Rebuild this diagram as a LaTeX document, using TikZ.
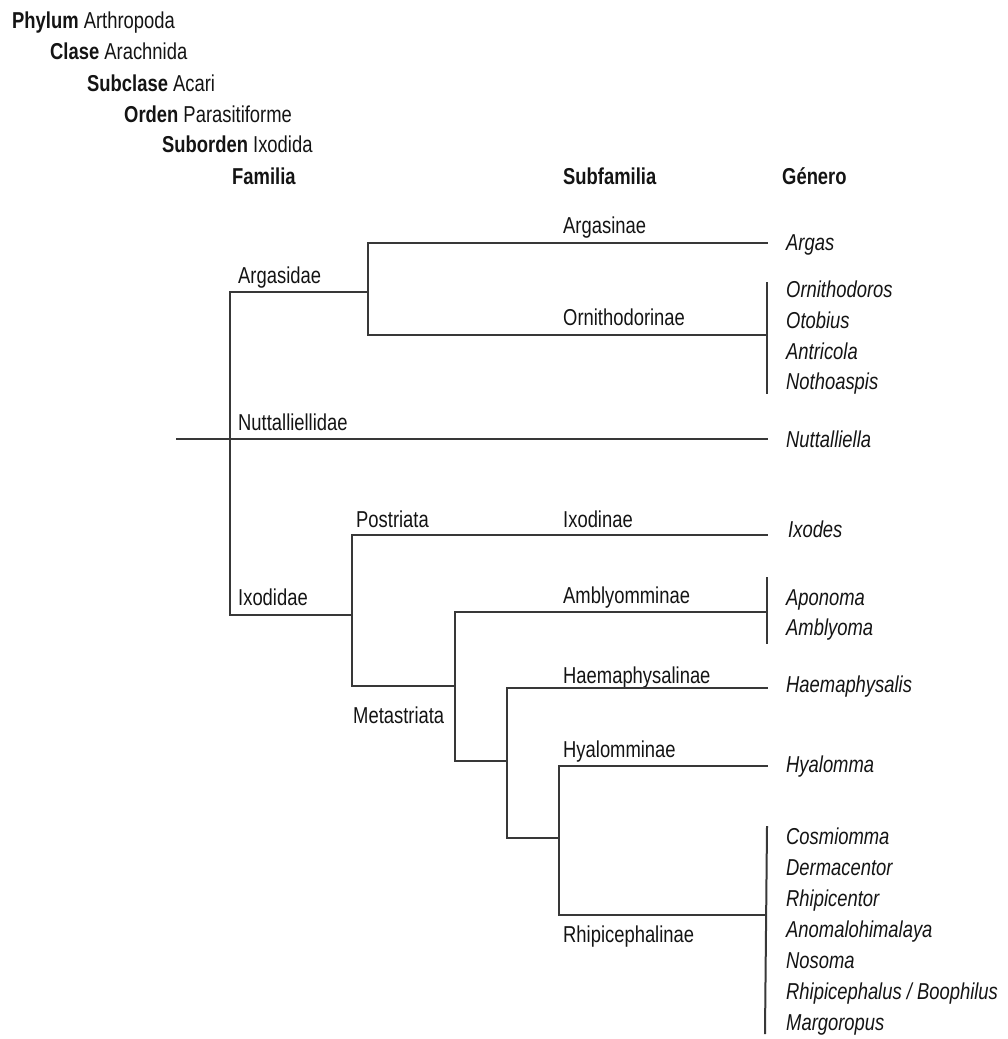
\documentclass[tikz,border=0pt]{standalone}
\usepackage{fontspec}
\setmainfont{Liberation Sans}[FakeStretch=0.80]
\begin{document}
\begin{tikzpicture}[x=1pt,y=-1pt,
  lbl/.style={anchor=base west, inner sep=0pt, text=black!92, font=\fontsize{23}{27}\selectfont},
  gen/.style={lbl, font=\fontsize{23}{27}\selectfont\itshape},
  hdr/.style={lbl, font=\fontsize{23}{27}\selectfont\bfseries},
  br/.style={line width=2pt, draw=black!78, line cap=rect}]
\useasboundingbox (0,0) rectangle (1008,1039);
% header ranks
\node[lbl] (phylum) at (12,28) {\textbf{Phylum} Arthropoda};
\node[lbl] (clase) at (50,59) {\textbf{Clase} Arachnida};
\node[lbl] (subclase) at (87,91) {\textbf{Subclase} Acari};
\node[lbl] (orden) at (124,122) {\textbf{Orden} Parasitiforme};
\node[lbl] (suborden) at (162,152) {\textbf{Suborden} Ixodida};
\node[hdr] (familia) at (232,184) {Familia};
\node[hdr] (subfamilia) at (563,184) {Subfamilia};
\node[hdr] (genero) at (782,184) {Género};
% family / subfamily labels
\node[lbl] (argasidae) at (238,283) {Argasidae};
\node[lbl] (nuttalliellidae) at (238,430) {Nuttalliellidae};
\node[lbl] (ixodidae) at (238,605) {Ixodidae};
\node[lbl] (postriata) at (356,527) {Postriata};
\node[lbl] (metastriata) at (353,723) {Metastriata};
\node[lbl] (argasinae) at (563,233) {Argasinae};
\node[lbl] (ornithodorinae) at (563,325) {Ornithodorinae};
\node[lbl] (ixodinae) at (563,527) {Ixodinae};
\node[lbl] (amblyomminae) at (563,603) {Amblyomminae};
\node[lbl] (haemaphysalinae) at (563,683) {Haemaphysalinae};
\node[lbl] (hyalomminae) at (563,757) {Hyalomminae};
\node[lbl] (rhipicephalinae) at (563,942) {Rhipicephalinae};
% genera
\node[gen] (argas) at (786,250) {Argas};
\node[gen] (ornithodoros) at (786,297) {Ornithodoros};
\node[gen] (otobius) at (786,328) {Otobius};
\node[gen] (antricola) at (786,359) {Antricola};
\node[gen] (nothoaspis) at (786,389) {Nothoaspis};
\node[gen] (nuttalliella) at (786,447) {Nuttalliella};
\node[gen] (ixodes) at (788,537) {Ixodes};
\node[gen] (aponoma) at (786,605) {Aponoma};
\node[gen] (amblyoma) at (786,635) {Amblyoma};
\node[gen] (haemaphysalis) at (786,692) {Haemaphysalis};
\node[gen] (hyalomma) at (786,772) {Hyalomma};
\node[gen] (cosmiomma) at (786,844) {Cosmiomma};
\node[gen] (dermacentor) at (786,875) {Dermacentor};
\node[gen] (rhipicentor) at (786,906) {Rhipicentor};
\node[gen] (anomalohimalaya) at (786,937) {Anomalohimalaya};
\node[gen] (nosoma) at (786,968) {Nosoma};
\node[gen] (rhipicephalus) at (786,999) {Rhipicephalus / Boophilus};
\node[gen] (margoropus) at (786,1030) {Margoropus};
% junction coordinates
\coordinate (rootTop) at (230,292);
\coordinate (rootBot) at (230,615);
\coordinate (argJ) at (368,292);
\coordinate (argTop) at (368,243);
\coordinate (argBot) at (368,335);
\coordinate (argasEnd) at (767,243);
\coordinate (ornEnd) at (767,335);
\coordinate (ornBrT) at (767,283);
\coordinate (ornBrB) at (767,393);
\coordinate (nutStart) at (177,439);
\coordinate (nutEnd) at (767,439);
\coordinate (ixJ) at (352,615);
\coordinate (ixTop) at (352,535);
\coordinate (ixBot) at (352,686);
\coordinate (ixodEnd) at (767,535);
\coordinate (metJ) at (455,686);
\coordinate (metTop) at (455,612);
\coordinate (metBot) at (455,761);
\coordinate (ambEnd) at (767,612);
\coordinate (ambBrT) at (767,578);
\coordinate (ambBrB) at (767,643);
\coordinate (haeJ) at (507,761);
\coordinate (haeTop) at (507,688);
\coordinate (haeBot) at (507,838);
\coordinate (haeEnd) at (767,688);
\coordinate (hyaJ) at (559,838);
\coordinate (hyaTop) at (559,766);
\coordinate (hyaBot) at (559,915);
\coordinate (hyaEnd) at (767,766);
\coordinate (rhiEnd) at (766,915);
\coordinate (rhiBrT) at (767,827);
\coordinate (rhiBrB) at (765,1033);
% tree
\draw[br] (rootTop) -- (rootBot);
\draw[br] (rootTop) -- (argJ);
\draw[br] (argTop) -- (argBot);
\draw[br] (argTop) -- (argasEnd);
\draw[br] (argBot) -- (ornEnd);
\draw[br] (ornBrT) -- (ornBrB);
\draw[br] (nutStart) -- (nutEnd);
\draw[br] (rootBot) -- (ixJ);
\draw[br] (ixTop) -- (ixBot);
\draw[br] (ixTop) -- (ixodEnd);
\draw[br] (ixBot) -- (metJ);
\draw[br] (metTop) -- (metBot);
\draw[br] (metTop) -- (ambEnd);
\draw[br] (ambBrT) -- (ambBrB);
\draw[br] (metBot) -- (haeJ);
\draw[br] (haeTop) -- (haeBot);
\draw[br] (haeTop) -- (haeEnd);
\draw[br] (haeBot) -- (hyaJ);
\draw[br] (hyaTop) -- (hyaBot);
\draw[br] (hyaTop) -- (hyaEnd);
\draw[br] (hyaBot) -- (rhiEnd);
\draw[br] (rhiBrT) -- (rhiBrB);
\end{tikzpicture}
\end{document}
